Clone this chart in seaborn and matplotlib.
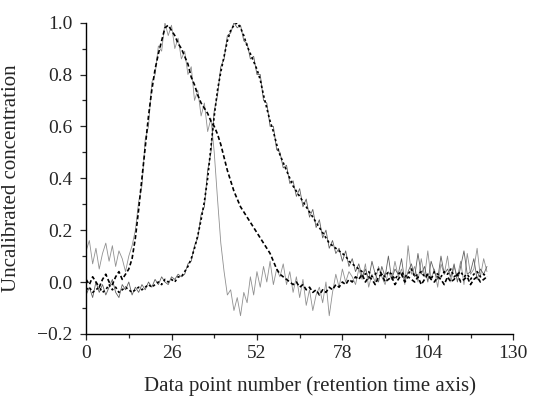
import numpy as np
import pandas as pd
import matplotlib
matplotlib.use("Agg")
import matplotlib.pyplot as plt
import seaborn as sns

x = list(range(0, 123))

peak1_smooth = ([0.01, -0.01, 0.02, 0.00, -0.02, 0.01, 0.03, 0.00, -0.01, 0.02, 0.04, 0.01, 0.03, 0.05]
                + [0.09, 0.17, 0.28, 0.40, 0.52, 0.64, 0.74, 0.82, 0.88, 0.93, 0.98, 0.99, 0.97]
                + [0.95, 0.92, 0.90, 0.87, 0.84, 0.79, 0.76, 0.72, 0.69, 0.67, 0.65, 0.62, 0.60, 0.57]
                + [0.53, 0.48, 0.43, 0.39, 0.35, 0.32, 0.29, 0.27, 0.25, 0.23, 0.21, 0.19, 0.17, 0.15, 0.13, 0.11]
                + [0.08, 0.05, 0.03, 0.02, 0.01, 0.00, -0.01, 0.00, -0.02, -0.01, -0.03, -0.02, -0.04, -0.03,
                   -0.05, -0.03, -0.04, -0.02, -0.03, -0.01, -0.02, 0.00, -0.01, 0.01]
                + [0.00, 0.02, 0.01, 0.03, 0.00, 0.02, 0.01, -0.01, 0.02, 0.03, 0.00, 0.01, 0.02, -0.01,
                   0.01, 0.03, 0.00, 0.02, 0.01, 0.00, 0.02, -0.01, 0.01, 0.03, 0.01, 0.00, 0.02, 0.01,
                   -0.01, 0.02, 0.00, 0.01, 0.03, 0.00, 0.01, 0.02, -0.01, 0.01, 0.02, 0.00, 0.01, 0.02])

peak2_smooth = ([-0.03, -0.02, -0.04, -0.03, -0.02, -0.04, -0.03, -0.01, -0.03, -0.02, -0.04, -0.03,
                 -0.02, -0.03, -0.04, -0.03, -0.02, -0.03, -0.02, -0.01, -0.02, -0.01, 0.00, -0.01,
                 0.01, 0.00, 0.01, 0.00, 0.02]
                + [0.02, 0.04, 0.06, 0.09, 0.13, 0.18, 0.24, 0.31, 0.40, 0.52, 0.64, 0.74, 0.81, 0.87,
                   0.93, 0.97, 0.99, 1.00]
                + [0.98, 0.95, 0.91, 0.88, 0.85, 0.82, 0.78, 0.72, 0.67, 0.62, 0.58, 0.53, 0.49, 0.46,
                   0.43, 0.40, 0.37, 0.35, 0.33, 0.31, 0.29, 0.27, 0.25, 0.23, 0.21, 0.19, 0.17, 0.15,
                   0.14, 0.13, 0.12, 0.11, 0.10, 0.08, 0.07, 0.06, 0.05, 0.04]
                + [0.03, 0.04, 0.02, 0.03, 0.05, 0.03, 0.02, 0.04, 0.03, 0.01, 0.03, 0.04, 0.02, 0.03,
                   0.05, 0.02, 0.03, 0.04, 0.02, 0.03, 0.01, 0.04, 0.03, 0.02, 0.04, 0.03, 0.05, 0.02,
                   0.03, 0.04, 0.02, 0.03, 0.01, 0.03, 0.04, 0.02, 0.03, 0.02])

peak1_noisy = ([0.12, 0.16, 0.07, 0.13, 0.05, 0.11, 0.15, 0.08, 0.14, 0.06, 0.12, 0.09, 0.04, 0.10]
               + [0.14, 0.20, 0.31, 0.37, 0.55, 0.60, 0.77, 0.80, 0.91, 0.89, 1.00, 0.95, 0.99, 0.90,
                  0.94, 0.86, 0.89, 0.80, 0.83, 0.70, 0.74, 0.64, 0.69, 0.58, 0.63]
               + [0.50, 0.32, 0.15, 0.04, -0.05, -0.03, -0.11, -0.06, -0.13, -0.04, -0.08, 0.02, -0.05,
                  0.04, -0.02, 0.06, 0.00, 0.08, -0.01, 0.05, 0.02, 0.07]
               + [-0.01, 0.04, -0.04, 0.02, -0.06, 0.01, -0.09, -0.03, -0.11, -0.05, -0.02, -0.08, 0.00,
                  -0.13, -0.04, 0.03, -0.02, 0.05, 0.00, 0.04]
               + [0.02, -0.01, 0.05, 0.01, 0.07, -0.02, 0.03, 0.00, 0.06, 0.02, -0.01, 0.04, 0.01, 0.08,
                  0.02, 0.05, -0.01, 0.14, 0.03, 0.06, 0.00, 0.09, 0.02, 0.12, 0.01, 0.05, -0.02, 0.07,
                  0.03, 0.10, 0.00, 0.06, 0.02, 0.08, -0.01, 0.11, 0.03, 0.05, 0.13, 0.02, 0.09, 0.04])

peak2_noisy = ([-0.05, -0.02, -0.06, 0.00, -0.04, -0.01, -0.05, -0.02, 0.01, -0.04, -0.06, -0.01, -0.03,
                0.00, -0.05, -0.02, -0.04, -0.01, -0.03, 0.00, -0.02, 0.01, -0.01, 0.02, 0.00, -0.01,
                0.02, 0.01, 0.03, 0.02]
               + [0.03, 0.07, 0.08, 0.14, 0.17, 0.26, 0.29, 0.43, 0.50, 0.66, 0.72, 0.83, 0.86, 0.95,
                  0.96, 1.00, 0.98, 0.99, 0.93]
               + [0.92, 0.86, 0.87, 0.80, 0.80, 0.70, 0.69, 0.60, 0.60, 0.51, 0.50, 0.44, 0.45, 0.38,
                  0.39, 0.33, 0.36, 0.29, 0.32, 0.25, 0.28, 0.21, 0.24, 0.17, 0.20, 0.13, 0.16, 0.11,
                  0.13, 0.08, 0.12, 0.06, 0.09, 0.04, 0.07, 0.02]
               + [0.05, 0.01, 0.08, 0.03, 0.00, 0.06, 0.02, 0.10, 0.01, 0.05, 0.03, 0.09, 0.00, 0.04,
                  0.07, 0.02, 0.11, 0.03, 0.06, 0.00, 0.08, 0.04, 0.01, 0.10, 0.03, 0.05, 0.02, 0.07,
                  0.00, 0.06, 0.12, 0.03, 0.04, 0.09, 0.01, 0.05, 0.03, 0.06])

x_ticks = [0, 26, 52, 78, 104, 130]
x_tick_labels = ["0", "26", "52", "78", "104", "130"]
y_ticks = [-0.2, 0.0, 0.2, 0.4, 0.6, 0.8, 1.0]
y_tick_labels = ["\u22120.2", "0.0", "0.2", "0.4", "0.6", "0.8", "1.0"]

sns.set_style("ticks")
plt.rcParams["font.family"] = ["Liberation Serif", "DejaVu Serif"]

fig = plt.figure(figsize=(5.38, 3.97), dpi=100)
ax = fig.add_axes([0.160, 0.159, 0.794, 0.784])

df = pd.DataFrame({"x": x, "p1s": peak1_smooth, "p2s": peak2_smooth,
                   "p1n": peak1_noisy, "p2n": peak2_noisy})

sns.lineplot(data=df, x="x", y="p1n", ax=ax, color="#909090", linewidth=0.6)
sns.lineplot(data=df, x="x", y="p2n", ax=ax, color="#606060", linewidth=0.6)
sns.lineplot(data=df, x="x", y="p1s", ax=ax, color="black", linewidth=1.2, linestyle=(0, (2.5, 1.5)))
sns.lineplot(data=df, x="x", y="p2s", ax=ax, color="black", linewidth=1.2, linestyle=(0, (1.5, 1.5)))

ax.set_xlim(0, 130)
ax.set_ylim(-0.2, 1.0)
ax.set_xticks(x_ticks)
ax.set_xticklabels(x_tick_labels)
ax.set_yticks(y_ticks)
ax.set_yticklabels(y_tick_labels)
ax.set_xticks([13, 39, 65, 91, 117], minor=True)
ax.set_yticks([-0.1, 0.1, 0.3, 0.5, 0.7, 0.9], minor=True)
ax.tick_params(axis="both", which="major", direction="out", length=4, width=0.9, labelsize=14)
ax.tick_params(axis="y", which="major", pad=6)
ax.tick_params(axis="x", which="major", pad=4)
ax.tick_params(axis="both", which="minor", direction="out", length=3, width=0.9)
for s in ["top", "right"]:
    ax.spines[s].set_visible(False)
for s in ["left", "bottom"]:
    ax.spines[s].set_linewidth(1.0)
    ax.spines[s].set_color("black")

ax.set_xlabel("Data point number (retention time axis)", fontsize=15)
ax.xaxis.set_label_coords(0.525, -0.135)
ax.set_ylabel("Uncalibrated concentration", fontsize=15)
ax.yaxis.set_label_coords(-0.152, 0.5)

fig.savefig("out.png", dpi=100)
